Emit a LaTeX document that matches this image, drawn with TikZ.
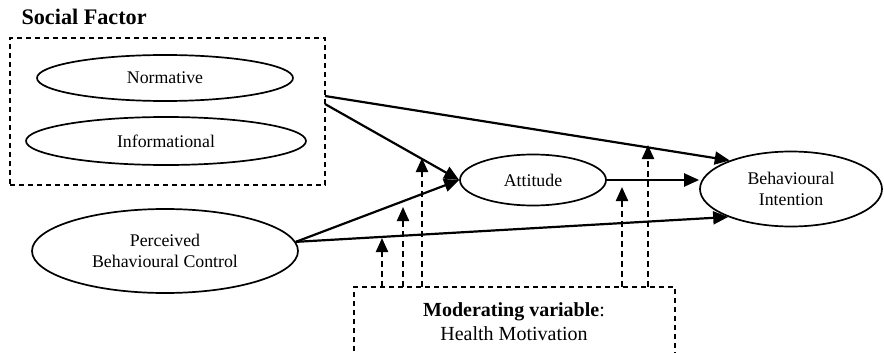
\documentclass[tikz,border=0pt]{standalone}
\usepackage{fontspec}
\setmainfont{Liberation Serif}
\usetikzlibrary{arrows.meta,shapes.geometric,calc}
\begin{document}
\begin{tikzpicture}[x=1pt,y=-1pt,
  ell/.style={draw,ellipse,line width=1.7pt,inner sep=0pt,align=center,
    font=\fontsize{17.8}{20.5}\selectfont},
  arr/.style={line width=2.2pt,-{Triangle[length=15pt,width=13pt]}},
  darr/.style={line width=2.2pt,dash pattern=on 6pt off 4pt,-{Triangle[length=14pt,width=12pt]}},
  dbox/.style={line width=1.7pt,dash pattern=on 5pt off 4pt}]
\useasboundingbox (0,0) rectangle (884,353);
\clip (0,0) rectangle (884,353);

\node[anchor=base west,font=\fontsize{22.2}{26}\selectfont\bfseries] (title) at (18,25) {Social Factor};
\node[dbox,draw,minimum width=315pt,minimum height=147pt,inner sep=0pt] (sf) at (167.5,111.5) {};
\node[ell,minimum width=256pt,minimum height=46pt] (norm) at (165,78) {Normative};
\node[ell,minimum width=280pt,minimum height=48pt] (info) at (166,141) {Informational};
\node[ell,minimum width=146pt,minimum height=51pt] (att) at (533,180) {Attitude};
\node[ell,minimum width=182pt,minimum height=75pt] (bi) at (791,189) {Behavioural\\Intention};
\node[ell,minimum width=266pt,minimum height=84pt] (pbc) at (165,251) {Perceived\\Behavioural Control};
\node[align=center,font=\fontsize{20}{24}\selectfont] (mod) at (514,322) {\textbf{Moderating variable}:\\Health Motivation};

% moderating box (open at bottom, runs off the picture)
\coordinate (mbl) at (354,360);
\coordinate (mtl) at (354,287);
\coordinate (mtr) at (675,287);
\coordinate (mbr) at (675,360);
\draw[dbox] (mbl) -- (mtl) -- (mtr) -- (mbr);

% social factor outgoing points
\coordinate (s1) at (325,96);
\coordinate (s2) at (325,104);

% solid arrows
\draw[arr] (s1) -- (bi.155);
\draw[arr] (s2) -- (att.west);
\draw[arr] (pbc.4) -- (att.west);
\draw[arr] (pbc.4) -- (bi.204);
\draw[arr] (att.east) -- (att.east -| bi.west);

% dashed moderating arrows
\foreach \n/\x/\y in {1/382/238, 2/403/207, 3/422/158, 4/622/187, 5/648/145}{
  \coordinate (m\n) at (\x,287);
  \coordinate (t\n) at (\x,\y);
  \draw[darr] (m\n) -- (t\n);
}
\end{tikzpicture}
\end{document}
